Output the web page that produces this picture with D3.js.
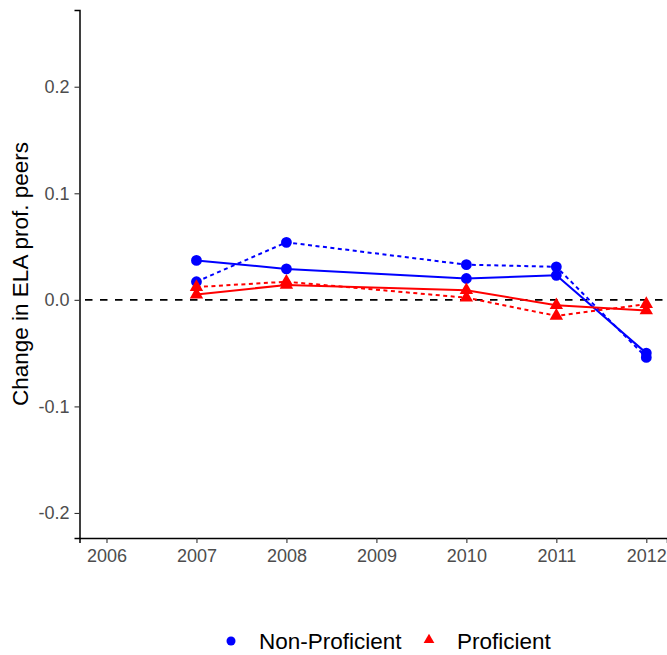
<!DOCTYPE html>
<html>
<head>
<meta charset="utf-8">
<script src="https://cdn.jsdelivr.net/npm/d3@7"></script>
<style>
  body { margin: 0; background: #fff; }
  svg { display: block; font-family: "Liberation Sans", Arial, sans-serif; }
</style>
</head>
<body>
<div id="chart"></div>
<script>
// valores
const years = [2007, 2008, 2010, 2011, 2012];
const nonProfSolid = [0.037, 0.029, 0.020, 0.023, -0.050];
const nonProfDashed = [0.017, 0.054, 0.033, 0.031, -0.054];
const profSolid = [0.005, 0.014, 0.009, -0.005, -0.010];
const profDashed = [0.012, 0.017, 0.002, -0.015, -0.004];
const xTicks = [2006, 2007, 2008, 2009, 2010, 2011, 2012];
const yTicks = [-0.2, -0.1, 0.0, 0.1, 0.2];
const groups = ["Non-Proficient", "Proficient"];

const width = 667, height = 655;
const margin = { top: 10, right: 0, bottom: 117, left: 79.5 };

const svg = d3.select("#chart").append("svg")
    .attr("width", width)
    .attr("height", height);

// escalas
const x = d3.scaleLinear().domain([2005.7, 2012.23]).range([margin.left, width - margin.right]);
const y = d3.scaleLinear().domain([-0.2235, 0.272]).range([height - margin.bottom, margin.top]);

// linha do zero
svg.append("line")
    .attr("x1", margin.left).attr("x2", width)
    .attr("y1", y(0)).attr("y2", y(0))
    .attr("stroke", "#000")
    .attr("stroke-width", 1.6)
    .attr("stroke-dasharray", "7.5,7.5")
    .attr("stroke-dashoffset", 9.5);

// series
const series = [
    { vals: nonProfSolid, color: "#0000ff", dash: null, shape: "circle" },
    { vals: nonProfDashed, color: "#0000ff", dash: "4,3.5", shape: "circle" },
    { vals: profSolid, color: "#ff0000", dash: null, shape: "triangle" },
    { vals: profDashed, color: "#ff0000", dash: "4,3.5", shape: "triangle" }
];

const line = d3.line()
    .x((d, i) => x(years[i]))
    .y(d => y(d));

series.forEach(s => {
    svg.append("path")
        .datum(s.vals)
        .attr("d", line)
        .attr("fill", "none")
        .attr("stroke", s.color)
        .attr("stroke-width", 2)
        .attr("stroke-dasharray", s.dash);
});

const circleSym = d3.symbol().type(d3.symbolCircle).size(92);
const triSym = d3.symbol().type(d3.symbolTriangle).size(78);
const legCircle = d3.symbol().type(d3.symbolCircle).size(64);
const legTri = d3.symbol().type(d3.symbolTriangle).size(50);

series.forEach(s => {
    svg.append("g").selectAll("path")
        .data(s.vals)
        .join("path")
        .attr("transform", (d, i) => `translate(${x(years[i])},${y(d)})`)
        .attr("d", s.shape === "circle" ? circleSym() : triSym())
        .attr("fill", s.color);
});

// eixos
const fmtY = d => d3.format(".1f")(d).replace("−", "-");

const xAxis = svg.append("g")
    .attr("transform", `translate(0,${height - margin.bottom})`)
    .call(d3.axisBottom(x).tickValues(xTicks).tickFormat(d3.format("d")).tickSizeOuter(0).tickSize(5).tickPadding(6));

const yAxis = svg.append("g")
    .attr("transform", `translate(${margin.left},0)`)
    .call(d3.axisLeft(y).tickValues(yTicks).tickFormat(fmtY).tickSizeOuter(0).tickSize(5).tickPadding(5));

[xAxis, yAxis].forEach(a => {
    a.select(".domain").attr("stroke", "#000").attr("stroke-width", 1.5);
    a.selectAll(".tick line").attr("stroke", "#333").attr("stroke-width", 1.1);
    a.selectAll(".tick text").attr("fill", "#4d4d4d").style("font-size", "18px");
});

// titulo do eixo y
svg.append("text")
    .attr("transform", `translate(28,${(margin.top + height - margin.bottom) / 2}) rotate(-90)`)
    .attr("text-anchor", "middle")
    .style("font-size", "22.5px")
    .attr("fill", "#000")
    .text("Change in ELA prof. peers");

// legenda
const legend = svg.append("g").attr("transform", "translate(0,641)");
legend.append("path")
    .attr("transform", "translate(231,0)")
    .attr("d", legCircle())
    .attr("fill", "#0000ff");
legend.append("text")
    .attr("x", 259).attr("y", 8)
    .style("font-size", "22.5px")
    .text(groups[0]);
legend.append("path")
    .attr("transform", "translate(429,-1)")
    .attr("d", legTri())
    .attr("fill", "#ff0000");
legend.append("text")
    .attr("x", 457).attr("y", 8)
    .style("font-size", "22.5px")
    .text(groups[1]);
</script>
</body>
</html>
